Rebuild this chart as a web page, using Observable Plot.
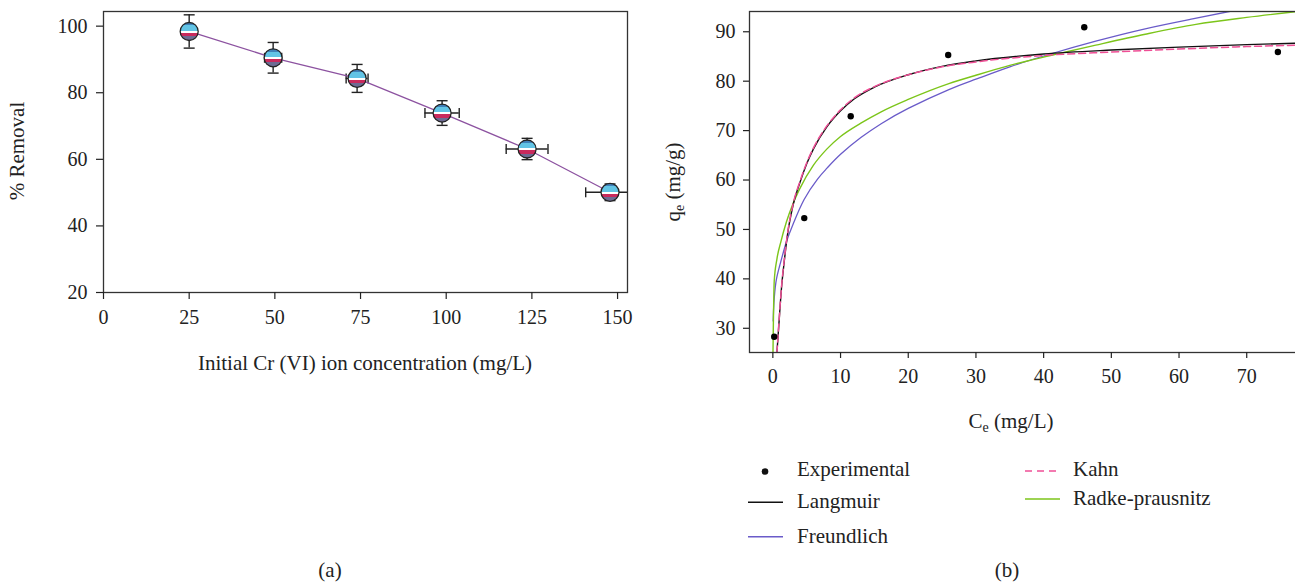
<!DOCTYPE html>
<html>
<head>
<meta charset="utf-8">
<script src="https://cdn.jsdelivr.net/npm/d3@7"></script>
<script src="https://cdn.jsdelivr.net/npm/@observablehq/plot@0.6"></script>
<style>
  html, body { margin: 0; padding: 0; background: #fff; }
  body { width: 1295px; height: 584px; overflow: hidden; position: relative; font-family: "Liberation Serif", serif; }
  #pa { position: absolute; left: 0; top: 0; width: 640px; }
  #pb { position: absolute; left: 660px; top: 0; width: 637px; }
  #overlay { position: absolute; left: 0; top: 0; pointer-events: none; }
  svg { max-width: none !important; }
  svg text { font-family: "Liberation Serif", serif; }
</style>
</head>
<body>
<div id="pa"></div>
<div id="pb"></div>
<svg id="overlay" width="1295" height="584" font-family="Liberation Serif, serif" fill="#222"></svg>
<script>
// ---------- Panel (a) data ----------
const concA = [25, 49.5, 74, 98.8, 123.6, 147.8];
const removalA = [98.4, 90.5, 84.3, 73.9, 63.1, 50.1];
const errConcA = [0.8, 2.5, 3.2, 5.0, 6.1, 7.1];
const errRemovalA = [5.0, 4.6, 4.2, 3.7, 3.2, 2.5];
const ticksXA = [0, 25, 50, 75, 100, 125, 150];
const ticksYA = [20, 40, 60, 80, 100];

// ---------- Panel (b) data ----------
const expC = [0.2, 4.64, 11.5, 25.9, 46.0, 74.6];
const expQ = [28.3, 52.3, 72.9, 85.3, 90.9, 85.9];

const langC = [0.6, 1, 1.33, 1.6, 2.17, 3, 4, 5, 6, 8, 10, 12, 15, 20, 25, 30, 40, 50, 60, 70, 77.5];
const langQ = [25, 33, 39, 42.5, 49, 55, 59.5, 63.3, 66.3, 70.8, 74, 76.4, 78.8, 81.3, 83, 84.1, 85.5, 86.3, 86.9, 87.4, 87.7];

const kahnC = [0.6, 1, 1.33, 1.6, 2.17, 3, 4, 5, 6, 8, 10, 12, 15, 20, 25, 30, 40, 50, 60, 70, 77.5];
const kahnQ = [25, 33.2, 39.2, 42.8, 49.2, 55.2, 59.7, 63.5, 66.5, 71, 74.2, 76.6, 78.9, 81.3, 82.9, 83.9, 85.2, 85.9, 86.5, 87.0, 87.3];

const freundC = [0.05, 0.15, 0.45, 1, 2, 3, 4.6, 6.6, 8, 10, 13, 16, 20, 26, 30, 35, 41, 47.7, 55, 62, 67.4, 72];
const freundQ = [31.5, 35, 39.3, 42.6, 47.5, 51.1, 56.0, 60.2, 62.4, 65.2, 68.6, 71.4, 74.5, 78.3, 80.4, 82.9, 85.5, 88.1, 90.6, 92.6, 94.1, 95.4];

const radkeC = [0.01, 0.2, 0.6, 1.2, 2, 3, 4, 6, 8, 10, 13, 16, 20, 26, 30, 35, 41, 47.7, 55, 62.5, 70, 77.5];
const radkeQ = [24.0, 39.5, 44, 47.6, 51.5, 55.3, 58.3, 63, 66.3, 68.8, 71.5, 73.8, 76.3, 79.5, 81.2, 83.2, 85.2, 87.3, 89.5, 91.5, 92.9, 94.1];

const ticksXB = [0, 10, 20, 30, 40, 50, 60, 70];
const ticksYB = [30, 40, 50, 60, 70, 80, 90];

// ---------- helpers ----------
const pairs = (xs, ys) => xs.map((x, i) => ({x, y: ys[i]}));
const hcap = { draw(ctx, size) { const r = Math.sqrt(size / Math.PI); ctx.moveTo(-r, 0); ctx.lineTo(r, 0); } };
const vcap = { draw(ctx, size) { const r = Math.sqrt(size / Math.PI); ctx.moveTo(0, -r); ctx.lineTo(0, r); } };

const baseStyle = { fontFamily: "Liberation Serif, serif", fontSize: "20px", color: "#222", background: "transparent", overflow: "visible" };

// ---------- Panel (a) ----------
const dataA = concA.map((x, i) => ({x, y: removalA[i], ex: errConcA[i], ey: errRemovalA[i]}));
const plotA = Plot.plot({
  width: 640, height: 380,
  marginLeft: 103, marginRight: 13, marginTop: 11, marginBottom: 88,
  style: baseStyle,
  x: { domain: [0, 152.9] },
  y: { domain: [20, 104.4] },
  marks: [
    Plot.ruleX(dataA, {x: "x", y1: d => d.y - d.ey, y2: d => d.y + d.ey, stroke: "#222", strokeWidth: 1.4}),
    Plot.dot(dataA, {x: "x", y: d => d.y + d.ey, symbol: hcap, r: 5.5, stroke: "#222", strokeWidth: 1.4}),
    Plot.dot(dataA, {x: "x", y: d => d.y - d.ey, symbol: hcap, r: 5.5, stroke: "#222", strokeWidth: 1.4}),
    Plot.ruleY(dataA, {y: "y", x1: d => d.x - d.ex, x2: d => d.x + d.ex, stroke: "#222", strokeWidth: 1.4, clip: true}),
    Plot.dot(dataA, {x: d => d.x - d.ex, y: "y", symbol: vcap, r: 5, stroke: "#222", strokeWidth: 1.4, clip: true}),
    Plot.dot(dataA, {x: d => d.x + d.ex, y: "y", symbol: vcap, r: 5, stroke: "#222", strokeWidth: 1.4, clip: true}),
    Plot.line(dataA, {x: "x", y: "y", stroke: "#8c52a0", strokeWidth: 1.3}),
    Plot.dot(dataA, {x: "x", y: "y", r: 9, fill: "url(#stripes)", stroke: "#222", strokeWidth: 1.3}),
    Plot.frame({stroke: "#333", strokeWidth: 1.3}),
    Plot.axisX({ticks: ticksXA, tickSize: 7, tickPadding: 10, label: null, strokeWidth: 1.2}),
    Plot.axisY({ticks: ticksYA, tickSize: 7, tickPadding: 9, label: null, strokeWidth: 1.2})
  ]
});
plotA.insertAdjacentHTML("afterbegin",
  `<defs><linearGradient id="stripes" x1="0" y1="0" x2="0" y2="1">
    <stop offset="0" stop-color="#3f80b8"/><stop offset="0.16" stop-color="#3f80b8"/>
    <stop offset="0.16" stop-color="#62c4e5"/><stop offset="0.46" stop-color="#62c4e5"/>
    <stop offset="0.46" stop-color="#ffffff"/><stop offset="0.57" stop-color="#ffffff"/>
    <stop offset="0.57" stop-color="#c92a5d"/><stop offset="0.76" stop-color="#c92a5d"/>
    <stop offset="0.76" stop-color="#6d6b93"/><stop offset="1" stop-color="#6d6b93"/>
  </linearGradient></defs>`);
document.getElementById("pa").appendChild(plotA);

// ---------- Panel (b) ----------
const plotB = Plot.plot({
  width: 637, height: 440,
  marginLeft: 89, marginRight: 0, marginTop: 11, marginBottom: 88,
  style: baseStyle,
  x: { domain: [-3.45, 77.5] },
  y: { domain: [25.1, 94.1] },
  marks: [
    Plot.line(pairs(freundC, freundQ), {x: "x", y: "y", stroke: "#6a5bc9", strokeWidth: 1.3, curve: "natural", clip: true}),
    Plot.line(pairs(radkeC, radkeQ), {x: "x", y: "y", stroke: "#7cc51a", strokeWidth: 1.4, curve: "monotone-x", clip: true}),
    Plot.line(pairs(langC, langQ), {x: "x", y: "y", stroke: "#111", strokeWidth: 1.4, curve: "monotone-x", clip: true}),
    Plot.line(pairs(kahnC, kahnQ), {x: "x", y: "y", stroke: "#ef4f96", strokeWidth: 1.5, strokeDasharray: "7,4", curve: "monotone-x", clip: true}),
    Plot.dot(pairs(expC, expQ), {x: "x", y: "y", r: 3.2, fill: "#000"}),
    Plot.frame({stroke: "#333", strokeWidth: 1.3}),
    Plot.axisX({ticks: ticksXB, tickSize: 6, tickPadding: 10, label: null, strokeWidth: 1.2}),
    Plot.axisY({ticks: ticksYB, tickSize: 6, tickPadding: 8, label: null, strokeWidth: 1.2})
  ]
});
document.getElementById("pb").appendChild(plotB);

// ---------- titles, legend, captions ----------
const ov = document.getElementById("overlay");
ov.innerHTML = `
  <g font-size="21">
    <text transform="translate(24,151) rotate(-90)" text-anchor="middle">% Removal</text>
    <text x="365" y="369.5" text-anchor="middle">Initial Cr (VI) ion concentration (mg/L)</text>
    <text transform="translate(680,182) rotate(-90)" text-anchor="middle">q<tspan font-size="14" dy="4">e</tspan><tspan dy="-4"> (mg/g)</tspan></text>
    <text x="1011" y="428" text-anchor="middle">C<tspan font-size="14" dy="4">e</tspan><tspan dy="-4"> (mg/L)</tspan></text>
    <text x="330" y="577" text-anchor="middle">(a)</text>
    <text x="1007" y="577" text-anchor="middle">(b)</text>
  </g>
  <g font-size="21">
    <circle cx="765" cy="471.5" r="3.3" fill="#111"></circle>
    <text x="797" y="475.7">Experimental</text>
    <line x1="748" x2="783" y1="502.3" y2="502.3" stroke="#111" stroke-width="1.4"></line>
    <text x="797" y="508.3">Langmuir</text>
    <line x1="748" x2="783" y1="536.7" y2="536.7" stroke="#6a5bc9" stroke-width="1.4"></line>
    <text x="797" y="542.7">Freundlich</text>
    <line x1="1025" x2="1060" y1="471" y2="471" stroke="#ef4f96" stroke-width="1.5" stroke-dasharray="7,5"></line>
    <text x="1073" y="476">Kahn</text>
    <line x1="1025" x2="1060" y1="499" y2="499" stroke="#7cc51a" stroke-width="1.4"></line>
    <text x="1073" y="505">Radke-prausnitz</text>
  </g>`;
</script>
</body>
</html>
